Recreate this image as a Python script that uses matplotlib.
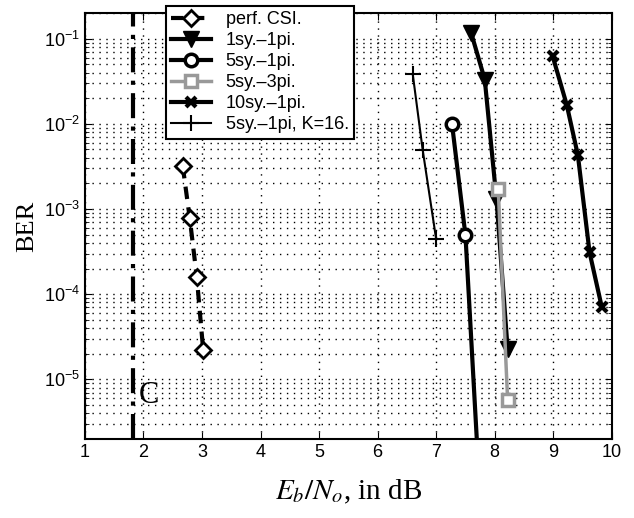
import numpy as np
import matplotlib.pyplot as plt
from matplotlib.ticker import LogLocator, NullFormatter

# ── data ───────────────────────────────────────────────────────────────────────
csi_x = [2.67, 2.79, 2.91, 3.02]
csi_y = [3.2e-3, 7.8e-4, 1.6e-4, 2.2e-5]

sy1_x = [7.60, 7.83, 8.03, 8.22]
sy1_y = [0.115, 0.033, 1.3e-3, 2.3e-5]

sy5_x = [7.27, 7.50, 7.75]
sy5_y = [1.0e-2, 4.9e-4, 4.0e-7]

sy5p3_x = [8.06, 8.22]
sy5p3_y = [1.7e-3, 5.8e-6]

sy10_x = [8.99, 9.23, 9.42, 9.62, 9.83]
sy10_y = [0.062, 0.0167, 4.3e-3, 3.1e-4, 7.0e-5]

k16_x = [6.60, 6.77, 7.00]
k16_y = [0.038, 4.9e-3, 4.4e-4]

capacity_x = 1.82

labels = ["perf. CSI.", "1sy.\u20131pi.", "5sy.\u20131pi.", "5sy.\u20133pi.",
          "10sy.\u20131pi.", "5sy.\u20131pi, K=16."]

plt.rcParams['font.family'] = ['Liberation Sans', 'DejaVu Sans']
plt.rcParams['mathtext.fontset'] = 'stix'

fig = plt.figure(figsize=(6.34, 5.18), dpi=100)
ax = fig.add_axes([0.134, 0.1525, 0.831, 0.8225])

h1, = ax.semilogy(csi_x, csi_y, 'k--', lw=3, marker='D', ms=8, mfc='white', mec='k', mew=2, dashes=(3, 2))
h2, = ax.semilogy(sy1_x, sy1_y, 'k-', lw=3, marker='v', ms=12, mfc='k', mec='k')
h3, = ax.semilogy(sy5_x, sy5_y, 'k-', lw=3, marker='o', ms=9, mfc='white', mec='k', mew=2.5)
h4, = ax.semilogy(sy5p3_x, sy5p3_y, '-', color='#999999', lw=2.5, marker='s', ms=8, mfc='white', mec='#999999', mew=2.5)
h5, = ax.semilogy(sy10_x, sy10_y, 'k-', lw=3, marker='x', ms=7, mew=3)
h6, = ax.semilogy(k16_x, k16_y, 'k-', lw=1.5, marker='+', ms=12, mew=1.5)

ax.axvline(capacity_x, color='k', lw=3, ls=(0, (6, 2, 1, 2)))
ax.text(2.1, 6.5e-6, 'C', fontsize=22, family='Liberation Serif', ha='center', va='center')

ax.set_xlim(1, 10)
ax.set_ylim(2e-6, 0.2)
ax.set_xticks(range(1, 11))
ax.yaxis.set_major_locator(LogLocator(base=10, numticks=10))
ax.yaxis.set_minor_locator(LogLocator(base=10, subs=np.arange(2, 10), numticks=20))
ax.yaxis.set_minor_formatter(NullFormatter())

ax.grid(True, which='major', ls=(0, (1, 4)), color='k', lw=1.0)
ax.grid(True, which='minor', axis='y', ls=(0, (1, 4)), color='k', lw=1.0)
ax.tick_params(which='both', direction='in', top=True, right=True, labelsize=13)
ax.tick_params(which='major', length=5)
ax.tick_params(which='minor', length=3)
for s in ax.spines.values():
    s.set_linewidth(1.5)

ax.set_ylabel('BER', fontsize=19, family='Liberation Serif', labelpad=4)
ax.set_xlabel('$E_b/N_o$, in dB', fontsize=21, family='Liberation Serif', labelpad=12)

leg = fig.legend([h1, h2, h3, h4, h5, h6], labels, loc='upper left',
                 bbox_to_anchor=(166 / 634, 1 - 6 / 518), fontsize=13, borderaxespad=0,
                 frameon=True, fancybox=False, edgecolor='k', framealpha=1,
                 handlelength=2.2, borderpad=0.3, labelspacing=0.22, handletextpad=0.8)
leg.get_frame().set_linewidth(1.5)

plt.savefig("out.png", dpi=100)
